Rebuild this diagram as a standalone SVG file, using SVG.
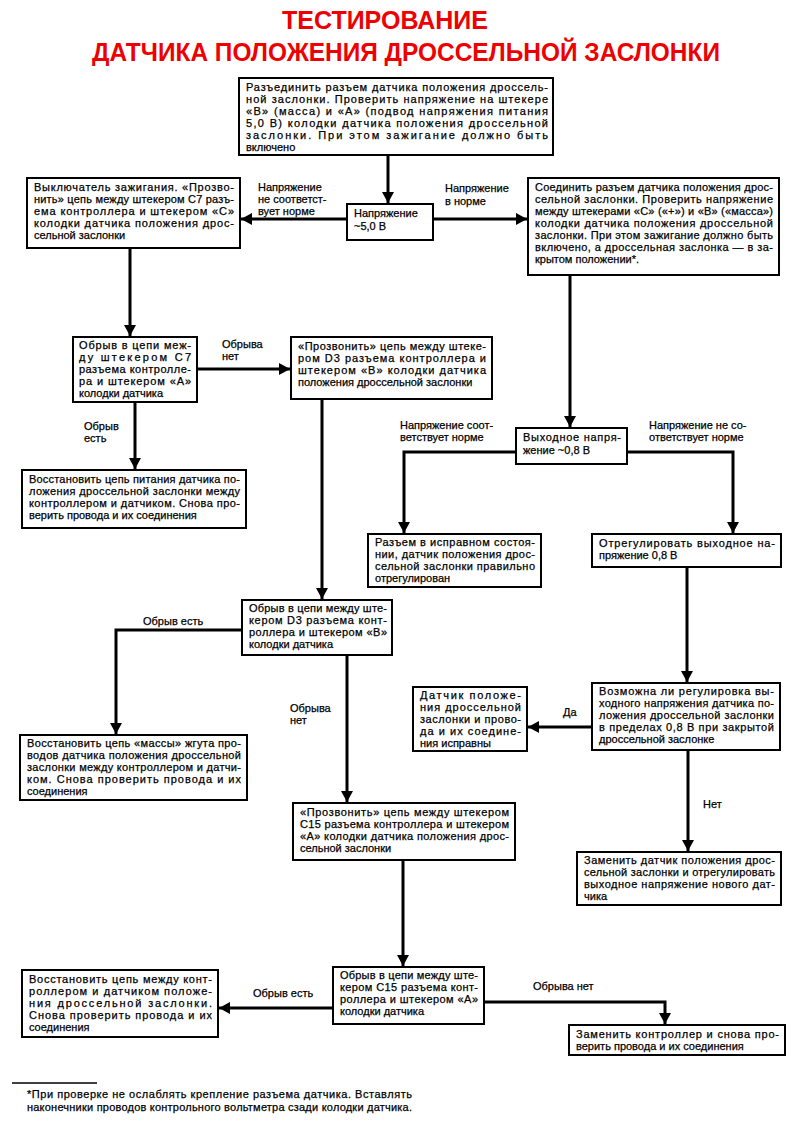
<svg xmlns="http://www.w3.org/2000/svg" width="800" height="1129" viewBox="0 0 800 1129">
<defs>
<style>
.bg{fill:#fff}
.box{fill:#fff;stroke:#000;stroke-width:2}
.t{font-family:"Liberation Sans",Arial,sans-serif;font-size:11px;fill:#000;stroke:#000;stroke-width:0.25}
.title{font-family:"Liberation Sans",Arial,sans-serif;font-size:25px;font-weight:bold;fill:#ee0000}
.c{stroke:#000;stroke-width:3;fill:none;marker-end:url(#ah)}
</style>
<marker id="ah" markerUnits="userSpaceOnUse" markerWidth="12" markerHeight="12" refX="11" refY="6" orient="auto">
<path d="M0,0 L11,6 L0,12 z" fill="#000"/>
</marker>
</defs>
<rect class="bg" width="800" height="1129"/>
<g id="title">
<text class="title" x="385" y="29" text-anchor="middle">ТЕСТИРОВАНИЕ</text>
<text class="title" x="92" y="61" textLength="628" lengthAdjust="spacingAndGlyphs">ДАТЧИКА ПОЛОЖЕНИЯ ДРОССЕЛЬНОЙ ЗАСЛОНКИ</text>
</g>
<g id="connectors">
<path class="c" d="M388,155 V203"/>
<path class="c" d="M347,219 H241"/>
<path class="c" d="M433,219 H527"/>
<path class="c" d="M130,248 V336"/>
<path class="c" d="M197,369 H290"/>
<path class="c" d="M135,402 V469"/>
<path class="c" d="M322,399 V599"/>
<path class="c" d="M242,630 H116 V734"/>
<path class="c" d="M347,655 V802"/>
<path class="c" d="M403,860 V966"/>
<path class="c" d="M333,1008 H219"/>
<path class="c" d="M484,1002 H665 V1024"/>
<path class="c" d="M570,275 V427"/>
<path class="c" d="M516,452 H404 V533"/>
<path class="c" d="M627,452 H733 V533"/>
<path class="c" d="M687,567 V682"/>
<path class="c" d="M592,727 H528"/>
<path class="c" d="M688,750 V851"/>
</g>
<g id="labels">
<text class="t" x="258" y="191">Напряжение</text>
<text class="t" x="258" y="203">не соответст-</text>
<text class="t" x="258" y="215">вует норме</text>
<text class="t" x="445" y="192">Напряжение</text>
<text class="t" x="445" y="205">в норме</text>
<text class="t" x="222" y="348">Обрыва</text>
<text class="t" x="222" y="360">нет</text>
<text class="t" x="84" y="430">Обрыв</text>
<text class="t" x="84" y="442">есть</text>
<text class="t" x="143" y="625">Обрыв есть</text>
<text class="t" x="290" y="712">Обрыва</text>
<text class="t" x="290" y="724">нет</text>
<text class="t" x="253" y="997">Обрыв есть</text>
<text class="t" x="533" y="990">Обрыва нет</text>
<text class="t" x="400" y="429">Напряжение соот-</text>
<text class="t" x="400" y="441">ветствует норме</text>
<text class="t" x="649" y="429">Напряжение не со-</text>
<text class="t" x="649" y="441">ответствует норме</text>
<text class="t" x="563" y="716">Да</text>
<text class="t" x="703" y="808">Нет</text>
</g>
<g id="boxA">
<rect class="box" x="239" y="78" width="314" height="77"/>
<text class="t" x="246" y="91" textLength="302" lengthAdjust="spacing">Разъединить разъем датчика положения дроссель-</text>
<text class="t" x="246" y="103" textLength="302" lengthAdjust="spacing">ной заслонки. Проверить напряжение на штекере</text>
<text class="t" x="246" y="115" textLength="302" lengthAdjust="spacing">«В» (масса) и «А» (подвод напряжения питания</text>
<text class="t" x="246" y="127" textLength="302" lengthAdjust="spacing">5,0 В) колодки датчика положения дроссельной</text>
<text class="t" x="246" y="139" textLength="302" lengthAdjust="spacing">заслонки. При этом зажигание должно быть</text>
<text class="t" x="246" y="151">включено</text>
</g>
<g id="boxV5">
<rect class="box" x="347" y="204" width="86" height="36"/>
<text class="t" x="354" y="217">Напряжение</text>
<text class="t" x="354" y="230">~5,0 В</text>
</g>
<g id="boxB">
<rect class="box" x="27" y="178" width="213" height="70"/>
<text class="t" x="34" y="191" textLength="200" lengthAdjust="spacing">Выключатель зажигания. «Прозво-</text>
<text class="t" x="34" y="203" textLength="200" lengthAdjust="spacing">нить» цепь между штекером С7 разъ-</text>
<text class="t" x="34" y="215" textLength="200" lengthAdjust="spacing">ема контроллера и штекером «С»</text>
<text class="t" x="34" y="227" textLength="200" lengthAdjust="spacing">колодки датчика положения дрос-</text>
<text class="t" x="34" y="239">сельной заслонки</text>
</g>
<g id="boxC">
<rect class="box" x="73" y="337" width="124" height="65"/>
<text class="t" x="79" y="349" textLength="112" lengthAdjust="spacing">Обрыв в цепи меж-</text>
<text class="t" x="79" y="361" textLength="112" lengthAdjust="spacing">ду штекером С7</text>
<text class="t" x="79" y="373" textLength="112" lengthAdjust="spacing">разъема контролле-</text>
<text class="t" x="79" y="385" textLength="112" lengthAdjust="spacing">ра и штекером «А»</text>
<text class="t" x="79" y="397">колодки датчика</text>
</g>
<g id="boxD">
<rect class="box" x="291" y="337" width="201" height="62"/>
<text class="t" x="298" y="350" textLength="188" lengthAdjust="spacing">«Прозвонить» цепь между штеке-</text>
<text class="t" x="298" y="362" textLength="188" lengthAdjust="spacing">ром D3 разъема контроллера и</text>
<text class="t" x="298" y="374" textLength="188" lengthAdjust="spacing">штекером «В» колодки датчика</text>
<text class="t" x="298" y="386">положения дроссельной заслонки</text>
</g>
<g id="boxE">
<rect class="box" x="22" y="470" width="224" height="58"/>
<text class="t" x="29" y="483" textLength="211" lengthAdjust="spacing">Восстановить цепь питания датчика по-</text>
<text class="t" x="29" y="495" textLength="211" lengthAdjust="spacing">ложения дроссельной заслонки между</text>
<text class="t" x="29" y="507" textLength="211" lengthAdjust="spacing">контроллером и датчиком. Снова про-</text>
<text class="t" x="29" y="519">верить провода и их соединения</text>
</g>
<g id="boxF">
<rect class="box" x="242" y="600" width="150" height="55"/>
<text class="t" x="249" y="612" textLength="138" lengthAdjust="spacing">Обрыв в цепи между ште-</text>
<text class="t" x="249" y="624" textLength="138" lengthAdjust="spacing">кером D3 разъема конт-</text>
<text class="t" x="249" y="636" textLength="138" lengthAdjust="spacing">роллера и штекером «В»</text>
<text class="t" x="249" y="648">колодки датчика</text>
</g>
<g id="boxG">
<rect class="box" x="20" y="735" width="227" height="65"/>
<text class="t" x="27" y="747" textLength="214" lengthAdjust="spacing">Восстановить цепь «массы» жгута про-</text>
<text class="t" x="27" y="759" textLength="214" lengthAdjust="spacing">водов датчика положения дроссельной</text>
<text class="t" x="27" y="771" textLength="214" lengthAdjust="spacing">заслонки между контроллером и датчи-</text>
<text class="t" x="27" y="783" textLength="214" lengthAdjust="spacing">ком. Снова проверить провода и их</text>
<text class="t" x="27" y="795">соединения</text>
</g>
<g id="boxH">
<rect class="box" x="293" y="803" width="222" height="57"/>
<text class="t" x="300" y="816" textLength="209" lengthAdjust="spacing">«Прозвонить» цепь между штекером</text>
<text class="t" x="300" y="828" textLength="209" lengthAdjust="spacing">С15 разъема контроллера и штекером</text>
<text class="t" x="300" y="840" textLength="209" lengthAdjust="spacing">«А» колодки датчика положения дрос-</text>
<text class="t" x="300" y="852">сельной заслонки</text>
</g>
<g id="boxI">
<rect class="box" x="333" y="967" width="151" height="57"/>
<text class="t" x="340" y="979" textLength="138" lengthAdjust="spacing">Обрыв в цепи между ште-</text>
<text class="t" x="340" y="991" textLength="138" lengthAdjust="spacing">кером С15 разъема конт-</text>
<text class="t" x="340" y="1003" textLength="138" lengthAdjust="spacing">роллера и штекером «А»</text>
<text class="t" x="340" y="1015">колодки датчика</text>
</g>
<g id="boxJ">
<rect class="box" x="22" y="970" width="196" height="67"/>
<text class="t" x="29" y="983" textLength="183" lengthAdjust="spacing">Восстановить цепь между конт-</text>
<text class="t" x="29" y="995" textLength="183" lengthAdjust="spacing">роллером и датчиком положе-</text>
<text class="t" x="29" y="1007" textLength="183" lengthAdjust="spacing">ния дроссельной заслонки.</text>
<text class="t" x="29" y="1019" textLength="183" lengthAdjust="spacing">Снова проверить провода и их</text>
<text class="t" x="29" y="1031">соединения</text>
</g>
<g id="boxK">
<rect class="box" x="569" y="1025" width="216" height="30"/>
<text class="t" x="576" y="1038" textLength="203" lengthAdjust="spacing">Заменить контроллер и снова про-</text>
<text class="t" x="576" y="1050">верить провода и их соединения</text>
</g>
<g id="boxL">
<rect class="box" x="528" y="178" width="251" height="97"/>
<text class="t" x="535" y="191" textLength="238" lengthAdjust="spacing">Соединить разъем датчика положения дрос-</text>
<text class="t" x="535" y="203" textLength="238" lengthAdjust="spacing">сельной заслонки. Проверить напряжение</text>
<text class="t" x="535" y="215" textLength="238" lengthAdjust="spacing">между штекерами «С» («+») и «В» («масса»)</text>
<text class="t" x="535" y="227" textLength="238" lengthAdjust="spacing">колодки датчика положения дроссельной</text>
<text class="t" x="535" y="239" textLength="238" lengthAdjust="spacing">заслонки. При этом зажигание должно быть</text>
<text class="t" x="535" y="251" textLength="238" lengthAdjust="spacing">включено, а дроссельная заслонка — в за-</text>
<text class="t" x="535" y="263">крытом положении*.</text>
</g>
<g id="boxM">
<rect class="box" x="516" y="428" width="111" height="36"/>
<text class="t" x="523" y="441" textLength="98" lengthAdjust="spacing">Выходное напря-</text>
<text class="t" x="523" y="454">жение ~0,8 В</text>
</g>
<g id="boxN">
<rect class="box" x="368" y="534" width="173" height="53"/>
<text class="t" x="375" y="546" textLength="160" lengthAdjust="spacing">Разъем в исправном состоя-</text>
<text class="t" x="375" y="558" textLength="160" lengthAdjust="spacing">нии, датчик положения дрос-</text>
<text class="t" x="375" y="570" textLength="160" lengthAdjust="spacing">сельной заслонки правильно</text>
<text class="t" x="375" y="582">отрегулирован</text>
</g>
<g id="boxO">
<rect class="box" x="592" y="534" width="189" height="33"/>
<text class="t" x="599" y="547" textLength="176" lengthAdjust="spacing">Отрегулировать выходное на-</text>
<text class="t" x="599" y="559">пряжение 0,8 В</text>
</g>
<g id="boxP">
<rect class="box" x="592" y="683" width="188" height="67"/>
<text class="t" x="599" y="695" textLength="175" lengthAdjust="spacing">Возможна ли регулировка вы-</text>
<text class="t" x="599" y="707" textLength="175" lengthAdjust="spacing">ходного напряжения датчика по-</text>
<text class="t" x="599" y="719" textLength="175" lengthAdjust="spacing">ложения дроссельной заслонки</text>
<text class="t" x="599" y="731" textLength="175" lengthAdjust="spacing">в пределах 0,8 В при закрытой</text>
<text class="t" x="599" y="743">дроссельной заслонке</text>
</g>
<g id="boxQ">
<rect class="box" x="413" y="687" width="114" height="64"/>
<text class="t" x="420" y="699" textLength="101" lengthAdjust="spacing">Датчик положе-</text>
<text class="t" x="420" y="711" textLength="101" lengthAdjust="spacing">ния дроссельной</text>
<text class="t" x="420" y="723" textLength="101" lengthAdjust="spacing">заслонки и прово-</text>
<text class="t" x="420" y="735" textLength="101" lengthAdjust="spacing">да и их соедине-</text>
<text class="t" x="420" y="747">ния исправны</text>
</g>
<g id="boxR">
<rect class="box" x="577" y="852" width="204" height="53"/>
<text class="t" x="584" y="864" textLength="191" lengthAdjust="spacing">Заменить датчик положения дрос-</text>
<text class="t" x="584" y="876" textLength="191" lengthAdjust="spacing">сельной заслонки и отрегулировать</text>
<text class="t" x="584" y="888" textLength="191" lengthAdjust="spacing">выходное напряжение нового дат-</text>
<text class="t" x="584" y="900">чика</text>
</g>
<g id="footnote">
<line x1="12" y1="1083" x2="97" y2="1083" stroke="#000" stroke-width="1.5"/>
<text class="t" x="27" y="1098" textLength="385" lengthAdjust="spacing">*При проверке не ослаблять крепление разъема датчика. Вставлять</text>
<text class="t" x="27" y="1111" textLength="385" lengthAdjust="spacing">наконечники проводов контрольного вольтметра сзади колодки датчика.</text>
</g>
</svg>
